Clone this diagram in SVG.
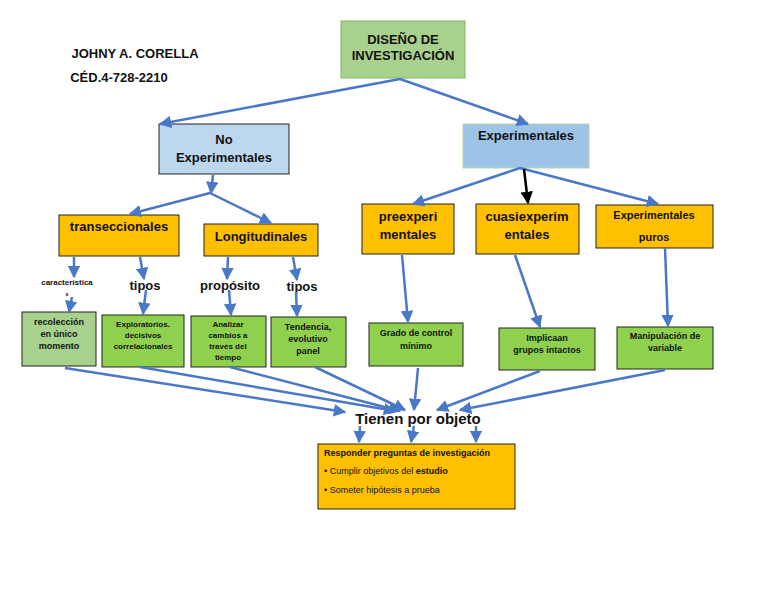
<svg xmlns="http://www.w3.org/2000/svg" width="768" height="594" viewBox="0 0 768 594">
<defs>
<marker id="a" viewBox="0 0 10 10" refX="9" refY="5" markerWidth="5" markerHeight="5" orient="auto"><path d="M0,0L10,5L0,10z" fill="#4a78c8"/></marker>
<marker id="k" viewBox="0 0 10 10" refX="9" refY="5" markerWidth="5" markerHeight="5" orient="auto"><path d="M0,0L10,5L0,10z" fill="#000"/></marker>
<style>
text{font-family:"Liberation Sans",Arial,sans-serif;font-weight:bold;fill:#111;text-anchor:middle}
.y{fill:#ffc000;stroke:#222;stroke-width:1}
.g{fill:#8fd14f;stroke:#222;stroke-width:1}
.c line,.c path{stroke:#4a78c8;stroke-width:2.5;fill:none;marker-end:url(#a)}
</style>
</defs>
<rect width="768" height="594" fill="#fff"/>
<text x="135" y="58" font-size="13">JOHNY A. CORELLA</text>
<text x="119" y="82" font-size="13">CÉD.4-728-2210</text>
<g id="n-root"><rect x="341" y="21" width="124" height="57" fill="#a9d18e" stroke="#82b366"/><text x="403" y="44" font-size="13">DISEÑO DE</text><text x="403" y="60" font-size="13">INVESTIGACIÓN</text></g>
<g id="n-noexp"><rect x="159" y="124" width="130" height="50" fill="#bdd7ee" stroke="#222"/><text x="224" y="144" font-size="13">No</text><text x="224" y="162" font-size="13">Experimentales</text></g>
<g id="n-exp"><rect x="463" y="124" width="126" height="44" fill="#9dc3e6" stroke="#b4d7a8"/><text x="526" y="140" font-size="13">Experimentales</text></g>
<g id="n-trans"><rect x="59" y="215" width="120" height="41" class="y"/><text x="119" y="231" font-size="13">transeccionales</text></g>
<g id="n-long"><rect x="204" y="224" width="114" height="32" class="y"/><text x="261" y="241" font-size="13">Longitudinales</text></g>
<g id="n-pre"><rect x="362" y="204" width="92" height="50" class="y"/><text x="408" y="221" font-size="13">preexperi</text><text x="408" y="239" font-size="13">mentales</text></g>
<g id="n-cuasi"><rect x="476" y="204" width="103" height="50" class="y"/><text x="527" y="221" font-size="13">cuasiexperim</text><text x="527" y="239" font-size="13">entales</text></g>
<g id="n-puros"><rect x="596" y="205" width="117" height="43" class="y"/><text x="654" y="219" font-size="11">Experimentales</text><text x="654" y="241" font-size="11">puros</text></g>
<g id="l-car"><text x="67" y="285" font-size="8">característica</text><text x="67" y="296" font-size="6">s</text></g>
<g id="l-tipos1"><text x="145" y="290" font-size="13">tipos</text></g>
<g id="l-prop"><text x="230" y="290" font-size="13">propósito</text></g>
<g id="l-tipos2"><text x="302" y="291" font-size="13">tipos</text></g>
<g id="n-rec"><rect x="22" y="312" width="74" height="54" fill="#a9d18e" stroke="#222"/><text x="59" y="325" font-size="9">recolección</text><text x="59" y="337" font-size="9">en único</text><text x="59" y="349" font-size="9">momento</text></g>
<g id="n-explo"><rect x="102" y="315" width="82" height="52" class="g"/><text x="143" y="327" font-size="8">Exploratorios.</text><text x="143" y="338" font-size="8">decisivos</text><text x="143" y="349" font-size="8">correlacionales</text></g>
<g id="n-anal"><rect x="191" y="316" width="75" height="51" class="g"/><text x="228" y="327" font-size="8">Analizar</text><text x="228" y="338" font-size="8">cambios a</text><text x="228" y="349" font-size="8">través del</text><text x="228" y="360" font-size="8">tiempo</text></g>
<g id="n-tend"><rect x="271" y="317" width="75" height="50" class="g"/><text x="308" y="330" font-size="9">Tendencia,</text><text x="308" y="342" font-size="9">evolutivo</text><text x="308" y="354" font-size="9">panel</text></g>
<g id="n-grado"><rect x="369" y="323" width="94" height="43" class="g"/><text x="416" y="336" font-size="9">Grado de control</text><text x="416" y="349" font-size="9">mínimo</text></g>
<g id="n-impl"><rect x="499" y="328" width="96" height="42" class="g"/><text x="547" y="341" font-size="9">Implicaan</text><text x="547" y="353" font-size="9">grupos intactos</text></g>
<g id="n-manip"><rect x="617" y="327" width="96" height="42" class="g"/><text x="665" y="339" font-size="9">Manipulación de</text><text x="665" y="351" font-size="9">variable</text></g>
<g id="l-tienen"><text x="418" y="424" font-size="15">Tienen por objeto</text></g>
<g id="n-resp"><rect x="318" y="444" width="197" height="65" class="y"/><text x="324" y="456" font-size="9" style="text-anchor:start">Responder preguntas de investigación</text><text x="324" y="474" font-size="9" style="text-anchor:start;font-weight:normal">• Cumplir objetivos del <tspan font-weight="bold">estudio</tspan></text><text x="324" y="493" font-size="9" style="text-anchor:start;font-weight:normal">• Someter hipótesis a prueba</text></g>
<g class="c" id="connectors">
<line x1="400" y1="79" x2="160" y2="124"/>
<line x1="400" y1="79" x2="528" y2="124"/>
<line x1="213" y1="175" x2="211" y2="193"/>
<line x1="210" y1="193" x2="130" y2="214"/>
<line x1="210" y1="193" x2="271" y2="223"/>
<line x1="520" y1="168" x2="413" y2="204"/>
<line x1="520" y1="168" x2="658" y2="204"/>
<line x1="524" y1="169" x2="528" y2="203" style="stroke:#000;marker-end:url(#k)"/>
<line x1="74" y1="257" x2="74" y2="277"/>
<line x1="72" y1="297" x2="69" y2="312"/>
<line x1="140" y1="257" x2="144" y2="279"/>
<line x1="146" y1="290" x2="143" y2="314"/>
<line x1="228" y1="257" x2="227" y2="279"/>
<line x1="229" y1="290" x2="231" y2="315"/>
<line x1="293" y1="257" x2="297" y2="280"/>
<line x1="296" y1="292" x2="297" y2="316"/>
<line x1="402" y1="255" x2="408" y2="322"/>
<line x1="515" y1="255" x2="540" y2="327"/>
<line x1="665" y1="248" x2="668" y2="326"/>
<line x1="65" y1="368" x2="345" y2="412"/>
<line x1="140" y1="367" x2="395" y2="411"/>
<line x1="230" y1="367" x2="400" y2="411"/>
<line x1="315" y1="367" x2="405" y2="410"/>
<line x1="418" y1="368" x2="414" y2="410"/>
<line x1="540" y1="371" x2="437" y2="410"/>
<line x1="665" y1="370" x2="460" y2="410"/>
<line x1="360" y1="426" x2="359" y2="442"/>
<line x1="414" y1="426" x2="411" y2="442"/>
<line x1="476" y1="426" x2="476" y2="442"/>
</g>
</svg>
